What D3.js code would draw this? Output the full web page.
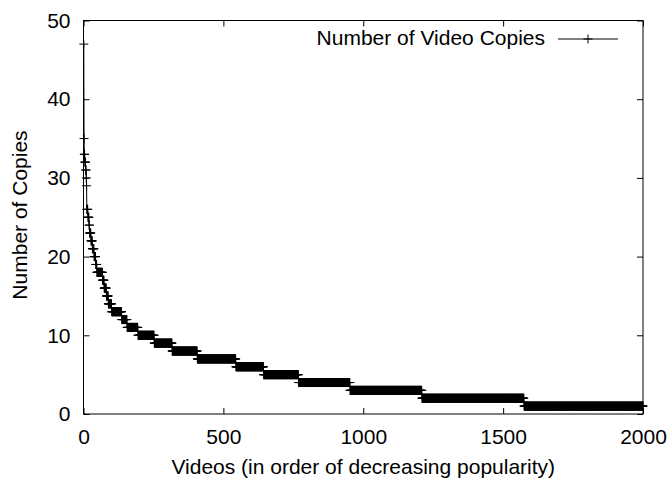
<!DOCTYPE html>
<html>
<head>
<meta charset="UTF-8">
<style>
body, html {
    margin: 0;
    padding: 0;
    width: 100%;
    height: 100%;
    overflow: hidden;
    background-color: #ffffff;
}
svg text {
    font-family: Arial, "Liberation Sans", Helvetica, sans-serif;
    fill: #000;
}
</style>
</head>
<body>
<svg id="chart"></svg>
<script src="https://d3js.org/d3.v7.min.js"></script>
<script>
// number of copies per video, as runs: copies[k] holds for every rank up to lastRank[k]
const copies   = [47, 35, 33, 32, 31, 30, 29, 26, 25, 24, 23, 22, 21, 20, 19, 18, 17, 16, 15, 14, 13, 12, 11, 10, 9, 8, 7, 6, 5, 4, 3, 2, 1];
const lastRank = [1, 2, 4, 7, 9, 10, 11, 15, 19, 21, 26, 31, 37, 43, 47, 67, 73, 81, 88, 100, 136, 155, 194, 252, 316, 406, 544, 643, 768, 952, 1209, 1574, 2000];

const xTicks = [0, 500, 1000, 1500, 2000];
const yTicks = [0, 10, 20, 30, 40, 50];
const seriesName = "Number of Video Copies";

// one point per video
let points = [];
let rank = 1;
copies.forEach((c, k) => {
    for (; rank <= lastRank[k]; rank++) points.push([rank, c]);
});

let width = 672, height = 479;
let margin = {left: 83.5, right: 672 - 643, top: 20.5, bottom: 479 - 414};
let fontSize = "21px";

let svg = d3.select("#chart")
    .attr("width", width)
    .attr("height", height);

let x = d3.scaleLinear().domain([0, 2000]).range([margin.left, width - margin.right]);
let y = d3.scaleLinear().domain([0, 50]).range([height - margin.bottom, margin.top]);

// axes with inward ticks, mirrored on top and right
let gx = svg.append("g")
    .attr("transform", `translate(0,${y(0)})`)
    .call(d3.axisBottom(x).tickValues(xTicks).tickFormat(d3.format("d")).tickSize(-6).tickSizeOuter(0).tickPadding(15));
let gxTop = svg.append("g")
    .attr("transform", `translate(0,${y(50)})`)
    .call(d3.axisTop(x).tickValues(xTicks).tickSize(-6).tickSizeOuter(0).tickFormat(""));
let gy = svg.append("g")
    .attr("transform", `translate(${x(0)},0)`)
    .call(d3.axisLeft(y).tickValues(yTicks).tickFormat(d3.format("d")).tickSize(-6).tickSizeOuter(0).tickPadding(13));
let gyRight = svg.append("g")
    .attr("transform", `translate(${x(2000)},0)`)
    .call(d3.axisRight(y).tickValues(yTicks).tickSize(-6).tickSizeOuter(0).tickFormat(""));

[gx, gxTop, gy, gyRight].forEach(g => {
    g.select(".domain").remove();
    g.selectAll("line").attr("stroke", "#000");
    g.selectAll("text").style("font-size", fontSize).attr("fill", "#000");
});

svg.append("rect")
    .attr("x", x(0))
    .attr("y", y(50))
    .attr("width", x(2000) - x(0))
    .attr("height", y(0) - y(50))
    .attr("fill", "none")
    .attr("stroke", "#000")
    .attr("stroke-width", 1);

// axis titles
svg.append("text")
    .attr("x", (x(0) + x(2000)) / 2)
    .attr("y", 474)
    .attr("text-anchor", "middle")
    .style("font-size", fontSize)
    .text("Videos (in order of decreasing popularity)");

svg.append("text")
    .attr("transform", "translate(27,215) rotate(-90)")
    .attr("text-anchor", "middle")
    .style("font-size", fontSize)
    .text("Number of Copies");

// series: line plus "+" markers
let line = d3.line().x(d => x(d[0])).y(d => y(d[1]));
let arm = 4.5;

function plusPath(pts) {
    return pts.map(d => {
        let px = x(d[0]), py = y(d[1]);
        return `M${px - arm},${py}h${2 * arm}M${px},${py - arm}v${2 * arm}`;
    }).join("");
}

svg.append("path")
    .datum(points)
    .attr("d", line)
    .attr("fill", "none")
    .attr("stroke", "#000")
    .attr("stroke-width", 1);

svg.append("path")
    .attr("d", plusPath(points))
    .attr("fill", "none")
    .attr("stroke", "#000")
    .attr("stroke-width", 1);

// legend
let legend = svg.append("g");
legend.append("text")
    .attr("x", 545)
    .attr("y", 45)
    .attr("text-anchor", "end")
    .style("font-size", fontSize)
    .text(seriesName);
legend.append("line")
    .attr("x1", 558).attr("x2", 618)
    .attr("y1", 39).attr("y2", 39)
    .attr("stroke", "#000");
legend.append("path")
    .attr("d", `M${588 - arm},39h${2 * arm}M588,${39 - arm}v${2 * arm}`)
    .attr("stroke", "#000");
</script>
</body>
</html>
